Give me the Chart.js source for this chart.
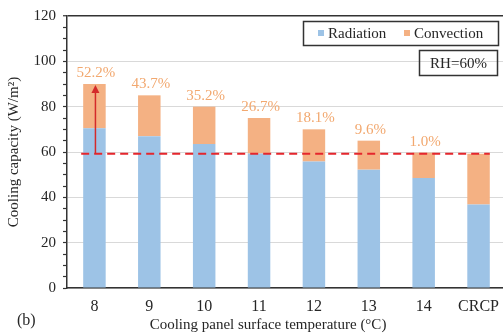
<!DOCTYPE html>
<html>
<head>
<meta charset="utf-8">
<script src="https://cdn.jsdelivr.net/npm/chart.js@4/dist/chart.umd.min.js"></script>
<style>
  html, body { margin: 0; padding: 0; background: #fff; overflow: hidden; }
  #wrap { width: 508px; height: 333px; position: relative; }
</style>
</head>
<body>
<div id="wrap"><canvas id="c"></canvas></div>
<script>
// ---- data ----
const categories = ['8', '9', '10', '11', '12', '13', '14', 'CRCP'];
const radiation  = [70.5, 67.0, 63.5, 59.3, 55.8, 52.2, 48.5, 36.8];
const totals     = [90.0, 85.0, 80.0, 75.0, 70.0, 65.0, 59.7, 59.2];
const convection = totals.map((t, i) => +(t - radiation[i]).toFixed(2));
const pctLabels  = ['52.2%', '43.7%', '35.2%', '26.7%', '18.1%', '9.6%', '1.0%', ''];
const baselineValue = 59.2;   // CRCP cooling capacity (dashed line)
const arrowIndex = 0;         // arrow drawn on the first bar
const yTitle = 'Cooling capacity (W/m\u00B2)';
const xTitle = 'Cooling panel surface temperature (\u00B0C)';
const rhText = 'RH=60%';
const panelTag = '(b)';

const BLUE = '#9DC3E6', ORANGE = '#F4B183', PCT = '#F2A86F', RED = '#E5262D';
const SERIF = '"Liberation Serif", "Times New Roman", serif';
const TXT = '#262626';

const overlay = {
  id: 'overlay',
  afterDatasetsDraw(chart) {
    const ctx = chart.ctx, x = chart.scales.x, y = chart.scales.y;
    const meta0 = chart.getDatasetMeta(0);
    ctx.save();
    // percentage labels
    ctx.font = '15px ' + SERIF;
    ctx.fillStyle = PCT;
    ctx.textAlign = 'center';
    ctx.textBaseline = 'middle';
    pctLabels.forEach((t, i) => {
      if (!t) return;
      ctx.fillText(t, x.getPixelForValue(i) + 1.5, y.getPixelForValue(totals[i]) - 11);
    });
    // dashed baseline
    const bar0 = meta0.data[0], barN = meta0.data[meta0.data.length - 1];
    const yb = y.getPixelForValue(baselineValue);
    ctx.strokeStyle = RED;
    ctx.lineWidth = 2;
    ctx.setLineDash([8, 5]);
    ctx.beginPath();
    ctx.moveTo(bar0.x - bar0.width / 2 - 2, yb);
    ctx.lineTo(barN.x + barN.width / 2, yb);
    ctx.stroke();
    ctx.setLineDash([]);
    // arrow
    const ax = x.getPixelForValue(arrowIndex) + 1;
    const yTop = y.getPixelForValue(totals[arrowIndex]) + 1;
    ctx.strokeStyle = '#D42A2A';
    ctx.fillStyle = '#D42A2A';
    ctx.lineWidth = 1.5;
    ctx.beginPath();
    ctx.moveTo(ax, yb);
    ctx.lineTo(ax, yTop + 7);
    ctx.stroke();
    ctx.beginPath();
    ctx.moveTo(ax, yTop);
    ctx.lineTo(ax - 4, yTop + 8);
    ctx.lineTo(ax + 4, yTop + 8);
    ctx.closePath();
    ctx.fill();

    // legend box
    ctx.lineWidth = 1.5;
    ctx.strokeStyle = '#333';
    ctx.strokeRect(303.5, 21.5, 195, 24);
    ctx.font = '15px ' + SERIF;
    ctx.textAlign = 'left';
    ctx.textBaseline = 'middle';
    chart.data.datasets.forEach((ds, i) => {
      const lx = i === 0 ? 318 : 404;
      ctx.fillStyle = ds.backgroundColor;
      ctx.fillRect(lx, 30, 6, 6);
      ctx.fillStyle = TXT;
      ctx.fillText(ds.label, lx + 10, 34);
    });
    // RH box
    ctx.strokeRect(419.5, 50.5, 78, 25);
    ctx.textAlign = 'center';
    ctx.fillText(rhText, 458.5, 64);

    // axis titles
    ctx.font = '15px ' + SERIF;
    ctx.fillStyle = TXT;
    ctx.textAlign = 'center';
    ctx.textBaseline = 'middle';
    ctx.fillText(xTitle, 268, 325);
    ctx.save();
    ctx.translate(14, (chart.chartArea.top + chart.chartArea.bottom) / 2);
    ctx.rotate(-Math.PI / 2);
    ctx.fillText(yTitle, 0, 0);
    ctx.restore();
    ctx.font = '16px ' + SERIF;
    ctx.textAlign = 'left';
    ctx.fillText(panelTag, 17, 321);
    ctx.restore();
  }
};

new Chart(document.getElementById('c'), {
  type: 'bar',
  data: {
    labels: categories,
    datasets: [
      { label: 'Radiation', data: radiation, backgroundColor: BLUE, borderWidth: 0 },
      { label: 'Convection', data: convection, backgroundColor: ORANGE, borderWidth: 0 }
    ]
  },
  options: {
    responsive: true,
    maintainAspectRatio: false,
    animation: false,
    devicePixelRatio: 1,
    layout: { padding: { left: 0, right: 0, top: 16, bottom: 0 } },
    datasets: { bar: { barPercentage: 0.41, categoryPercentage: 1 } },
    plugins: { legend: { display: false }, tooltip: { enabled: false } },
    scales: {
      x: {
        stacked: true,
        grid: { display: false, drawTicks: false },
        border: { display: true, color: '#333', width: 1.5 },
        ticks: { color: TXT, font: { family: SERIF, size: 16 }, padding: 9, maxRotation: 0 },
        afterFit(s) { s.height = 45; }
      },
      y: {
        stacked: true,
        min: 0, max: 120,
        grid: {
          color: c => (c.tick && c.tick.value === 120) ? '#333' : (c.tick && c.tick.value % 20 === 0 ? '#D9D9D9' : 'rgba(0,0,0,0)'),
          lineWidth: c => (c.tick && c.tick.value === 120) ? 1.5 : 1,
          tickColor: '#333',
          tickLength: 4,
          tickWidth: 1.2,
          drawTicks: true
        },
        border: { display: true, color: '#333', width: 1.5 },
        ticks: {
          stepSize: 5,
          maxTicksLimit: 40,
          autoSkip: false,
          color: TXT,
          font: { family: SERIF, size: 15 },
          padding: 7,
          callback: v => (v % 20 === 0 ? String(v) : '')
        },
        afterFit(s) { s.width = 67; }
      }
    }
  },
  plugins: [overlay]
});
</script>
</body>
</html>
